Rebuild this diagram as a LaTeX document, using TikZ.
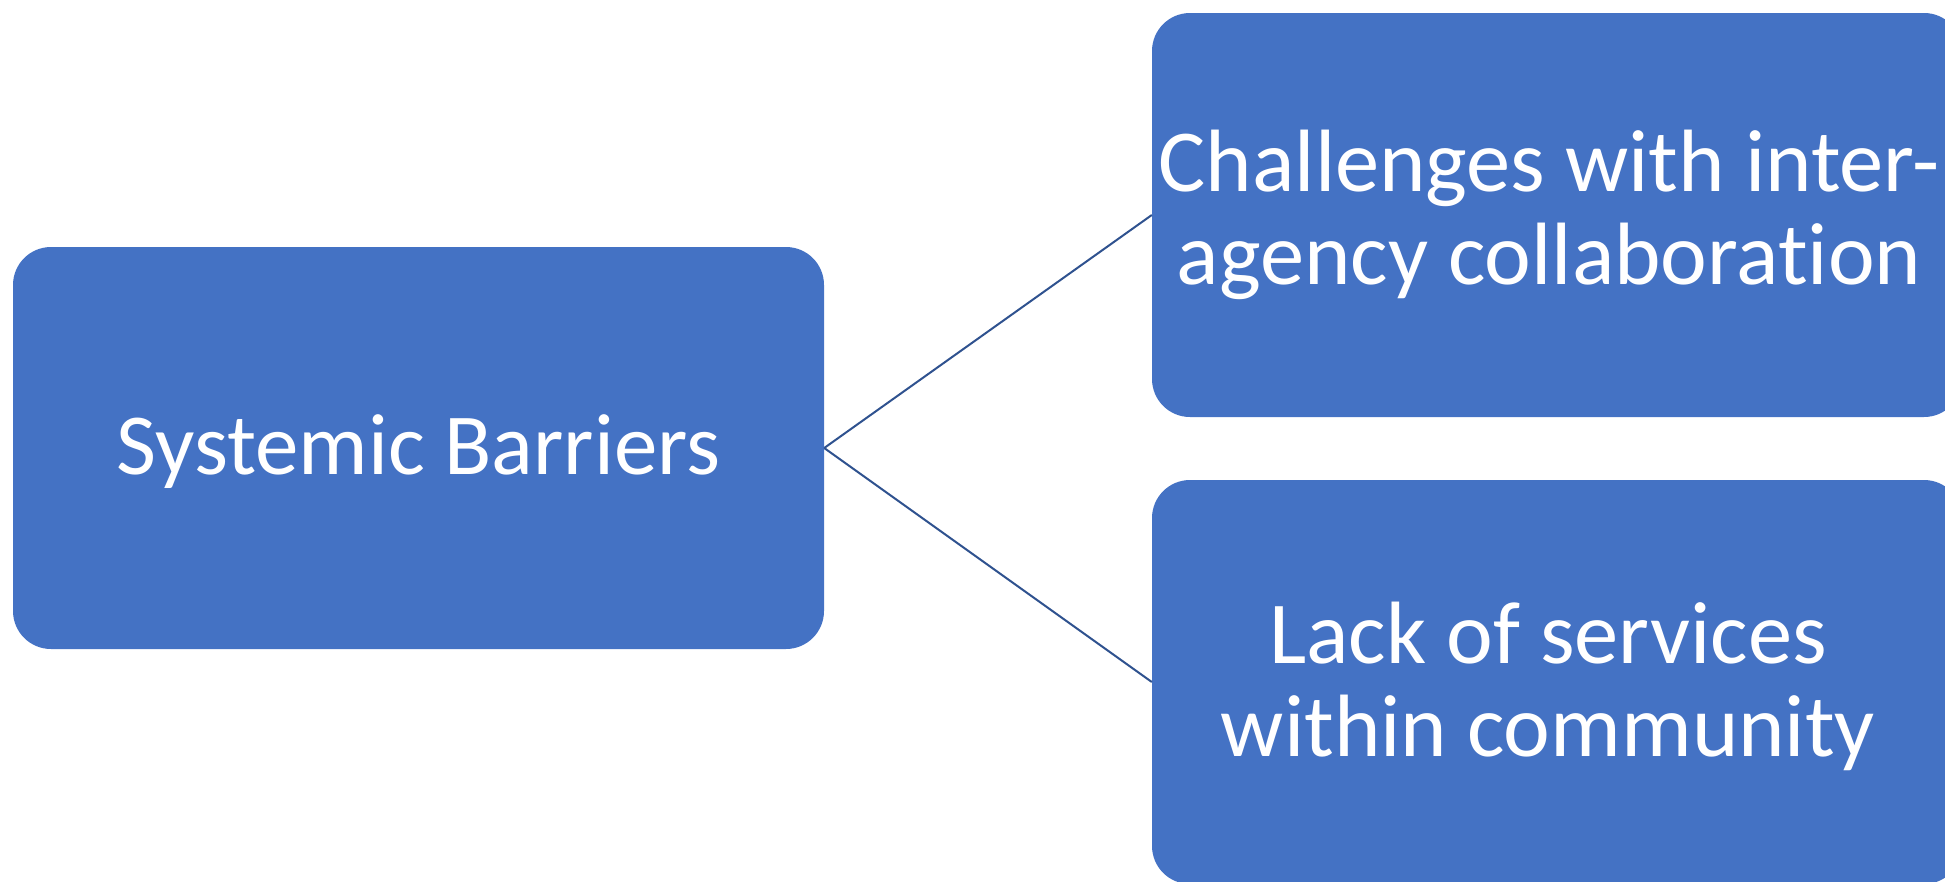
\documentclass[tikz,border=0pt]{standalone}
\usepackage{fontspec}
\setmainfont{Carlito}[Ligatures=NoCommon]
\definecolor{boxblue}{HTML}{4472C4}
\definecolor{linkblue}{HTML}{2F528F}
\begin{document}
\begin{tikzpicture}[x=1pt,y=1pt,
  bluebox/.style={fill=boxblue, draw=none, rounded corners=38pt, inner sep=0pt},
  boxtext/.style={text=white, align=center, inner sep=0pt, font=\fontsize{87}{93}\selectfont},
  bigtext/.style={boxtext, font=\fontsize{88.5}{93}\selectfont},
  link/.style={draw=linkblue, line width=2pt}]
\clip (0,0) rectangle (1945,-881);
\node[bluebox, minimum width=811pt, minimum height=402pt] (L) at (418.5,-448) {};
\node[bluebox, minimum width=810pt, minimum height=404pt] (T) at (1557,-215) {};
\node[bluebox, minimum width=810pt, minimum height=404pt] (B) at (1557,-682) {};
\node[boxtext] (Lt) at ([yshift=-4pt]L.center) {Systemic Barriers};
\node[bigtext] (Tt) at ([xshift=-8pt]T.center) {Challenges with inter-\\agency collaboration};
\node[bigtext] (Bt) at ([xshift=-9pt,yshift=-4pt]B.center) {Lack of services\\within community};
\draw[link] (L.east) -- (T.west);
\draw[link] (L.east) -- (B.west);
\end{tikzpicture}
\end{document}
